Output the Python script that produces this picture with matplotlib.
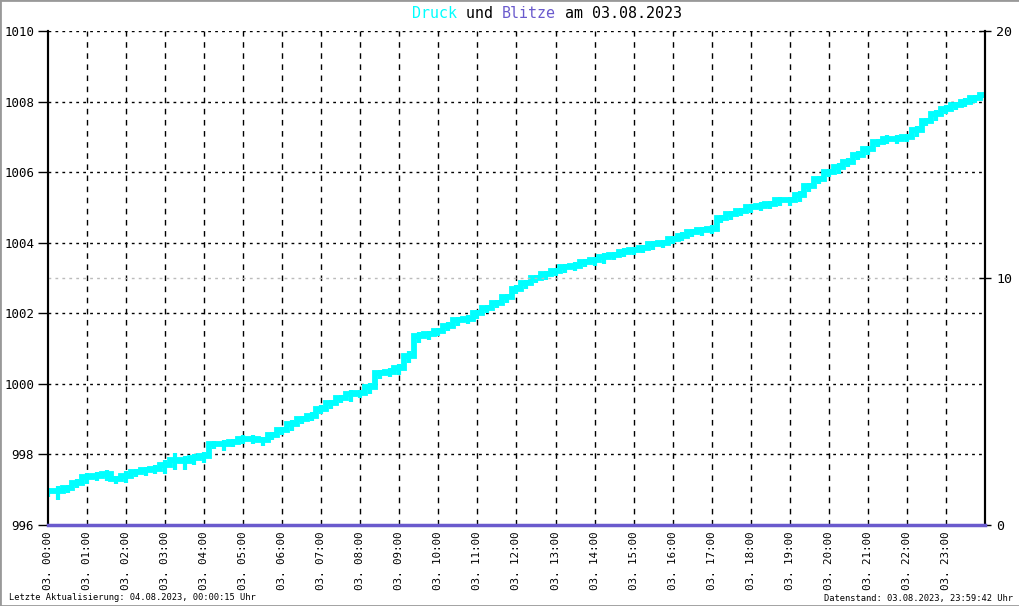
import matplotlib
matplotlib.use("Agg")
import matplotlib.pyplot as plt
from matplotlib.patches import Rectangle

# ---- data ----
hour_labels = ["03. %02d:00" % h for h in range(24)]
# pressure every 15 minutes from 00:00 to 24:00 (hPa)
druck = [996.95, 996.95, 997.05, 997.2, 997.35, 997.4, 997.45, 997.3,
         997.4, 997.5, 997.55, 997.6, 997.7, 997.85, 997.8, 997.9,
         997.95, 998.3, 998.3, 998.35, 998.45, 998.45, 998.4, 998.55,
         998.7, 998.85, 999.0, 999.1, 999.3, 999.45, 999.6, 999.7,
         999.75, 999.9, 1000.3, 1000.35, 1000.45, 1000.8, 1001.35, 1001.4,
         1001.5, 1001.65, 1001.8, 1001.85, 1002.0, 1002.15, 1002.3, 1002.45,
         1002.7, 1002.85, 1003.0, 1003.1, 1003.2, 1003.3, 1003.35, 1003.45,
         1003.5, 1003.6, 1003.65, 1003.75, 1003.8, 1003.85, 1003.95, 1004.0,
         1004.1, 1004.2, 1004.3, 1004.35, 1004.4, 1004.7, 1004.8, 1004.9,
         1005.0, 1005.05, 1005.1, 1005.2, 1005.2, 1005.35, 1005.6, 1005.8,
         1006.0, 1006.15, 1006.3, 1006.5, 1006.65, 1006.85, 1006.95, 1006.95,
         1007.0, 1007.2, 1007.45, 1007.65, 1007.8, 1007.9, 1008.0, 1008.1,
         1008.2]
# visible scatter (half range of the jagged band, hPa) per 15 minutes
streuung = [0.15, 0.25, 0.15, 0.15, 0.2, 0.15, 0.2, 0.15,
            0.2, 0.15, 0.15, 0.15, 0.25, 0.3, 0.25, 0.2,
            0.2, 0.15, 0.2, 0.15, 0.15, 0.15, 0.15, 0.15,
            0.15, 0.2, 0.15, 0.15, 0.15, 0.15, 0.15, 0.2,
            0.15, 0.2, 0.15, 0.15, 0.2, 0.2, 0.2, 0.15,
            0.15, 0.15, 0.15, 0.15, 0.15, 0.15, 0.15, 0.15,
            0.15, 0.15, 0.15, 0.15, 0.15, 0.15, 0.15, 0.15,
            0.15, 0.2, 0.15, 0.15, 0.15, 0.15, 0.15, 0.15,
            0.15, 0.15, 0.15, 0.15, 0.15, 0.15, 0.15, 0.15,
            0.15, 0.15, 0.15, 0.15, 0.15, 0.2, 0.15, 0.15,
            0.15, 0.2, 0.15, 0.15, 0.15, 0.15, 0.15, 0.15,
            0.15, 0.2, 0.15, 0.2, 0.15, 0.15, 0.15, 0.15,
            0.1]
druck_hours = [i * 0.25 for i in range(len(druck))]
blitze = [0, 0]
blitze_hours = [0, 24]
left_ticks = [996, 998, 1000, 1002, 1004, 1006, 1008, 1010]
right_ticks = [0, 10, 20]

CYAN = "#00FFFF"
PURPLE = "#6A5ACD"
MONO = "DejaVu Sans Mono"

fig = plt.figure(figsize=(10.2, 6.06), dpi=100)
W, H = 1020, 606
ax = fig.add_axes([48 / W, (H - 525) / H, (985 - 48) / W, (525 - 31) / H])
ax2 = ax.twinx()

ax.set_xlim(0, 24)
ax.set_ylim(996, 1010)
ax2.set_ylim(0, 20)

# grid
for h in range(1, 24):
    ax.axvline(h, color="black", lw=1.0, ls=(0, (4, 4)), zorder=1)
for v in left_ticks[1:]:
    ax.axhline(v, color="black", lw=1.0, ls=(0, (2, 3)), zorder=1)
ax2.axhline(10, color="#BBBBBB", lw=1.0, ls=(0, (2, 3)), zorder=1)

lo = [d - s for d, s in zip(druck, streuung)]
hi = [d + s * 0.6 for d, s in zip(druck, streuung)]
ax.vlines(druck_hours, lo, hi, color=CYAN, lw=3, zorder=3)
ax.plot(druck_hours, druck, color=CYAN, lw=4.2, drawstyle="steps-mid",
        solid_joinstyle="miter", zorder=3)
ax2.plot(blitze_hours, blitze, color=PURPLE, lw=2.5, zorder=4, clip_on=False)

# spines
for a in (ax, ax2):
    a.spines["top"].set_visible(False)
    a.spines["bottom"].set_visible(False)
    a.spines["left"].set_color("black")
    a.spines["right"].set_color("black")
    a.spines["left"].set_linewidth(1.5)
    a.spines["right"].set_linewidth(1.5)

ax.set_yticks(left_ticks)
ax.set_yticklabels([str(t) for t in left_ticks], fontfamily=MONO, fontsize=9)
ax.tick_params(axis="y", direction="out", length=7, width=1, pad=3)
ax2.set_yticks(right_ticks)
ax2.set_yticklabels([str(t) for t in right_ticks], fontfamily=MONO, fontsize=9.5)
ax2.tick_params(axis="y", direction="inout", length=8, width=1, pad=4)

ax.set_xticks(range(24))
ax.set_xticklabels(hour_labels, rotation=90, fontfamily=MONO, fontsize=7.8)
ax.tick_params(axis="x", length=0, pad=5)

# title in colored parts
parts = [("Druck", CYAN), (" und ", "black"), ("Blitze", PURPLE), (" am 03.08.2023", "black")]
fig.canvas.draw()
x_px = 412.0
for txt, col in parts:
    t = fig.text(x_px / W, 1 - 13 / H, txt, color=col, fontfamily=MONO,
                 fontsize=10.8, va="center", ha="left")
    fig.canvas.draw()
    bb = t.get_window_extent()
    x_px = bb.x1

fig.text(9 / W, 1 - 598 / H, "Letzte Aktualisierung: 04.08.2023, 00:00:15 Uhr",
         fontfamily=MONO, fontsize=6.3, va="center", ha="left")
fig.text(1013 / W, 1 - 598 / H, "Datenstand: 03.08.2023, 23:59:42 Uhr",
         fontfamily=MONO, fontsize=6.3, va="center", ha="right")

fig.patches.append(Rectangle((0, 0), 1, 1, transform=fig.transFigure,
                             fill=False, edgecolor="#999999", lw=2))

fig.savefig("out.png", dpi=100)
